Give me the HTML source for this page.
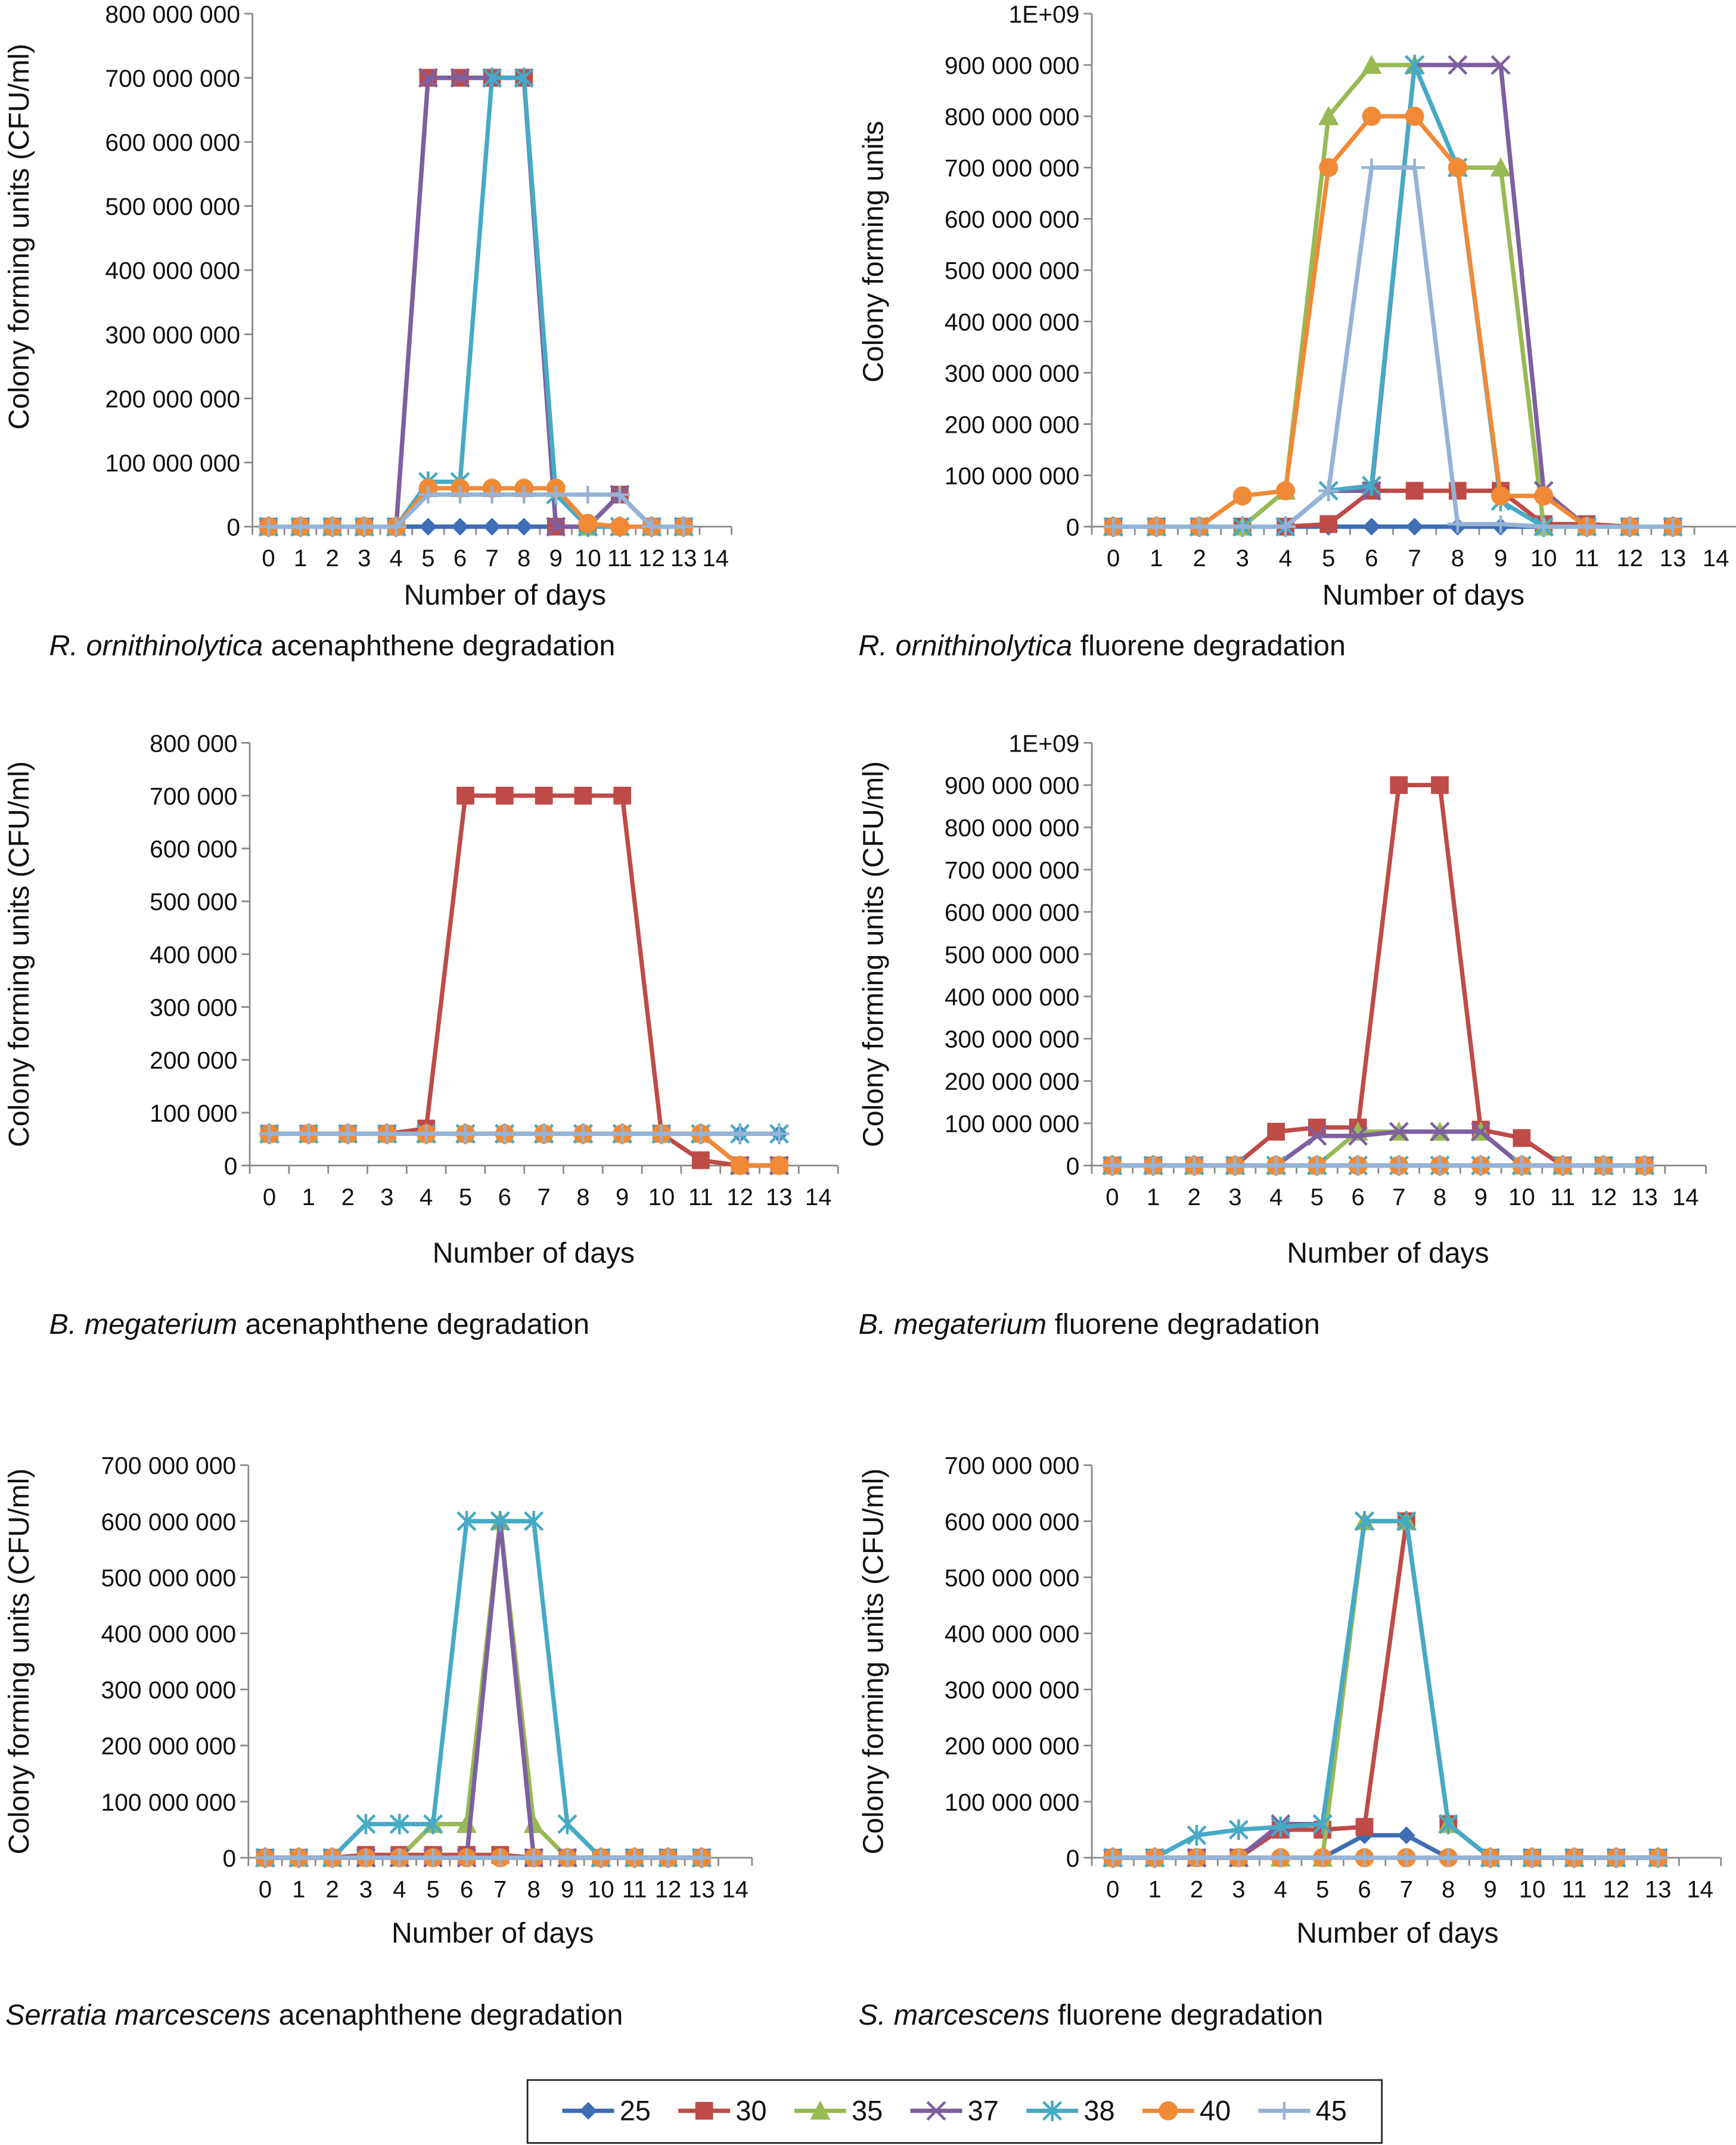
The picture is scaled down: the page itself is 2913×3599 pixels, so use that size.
<!DOCTYPE html>
<html><head><meta charset="utf-8"><style>
html,body{margin:0;padding:0;background:#fff;}
svg{display:block;font-family:"Liberation Sans",Arial,sans-serif;}
</style></head><body>
<svg id="fig" width="2913" height="3599" viewBox="0 0 1272 1568" preserveAspectRatio="none" xmlns="http://www.w3.org/2000/svg">
<rect x="0" y="0" width="1272" height="1568" fill="#fff"/>
</svg>
<script>
const series = ["25","30","35","37","38","40","45"];
const colors = ["#3d6db3","#be4b48","#98b954","#7d60a0","#46aac5","#f08a36","#95b3d7"];
const dayLabels = ["0","1","2","3","4","5","6","7","8","9","10","11","12","13","14"];
const M = 1e6;
// Chart 1: R. ornithinolytica acenaphthene
const roAce25 = [0,0,0,0,0,0,0,0,0,0,0,0,0,0];
const roAce30 = [0,0,0,0,0,700,700,700,700,0,0,50,0,0];
const roAce35 = [0,0,0,0,0,60,60,60,60,60,0,0,0,0];
const roAce37 = [0,0,0,0,0,700,700,700,700,0,0,50,0,0];
const roAce38 = [0,0,0,0,0,70,70,700,700,50,0,0,0,0];
const roAce40 = [0,0,0,0,0,60,60,60,60,60,5,0,0,0];
const roAce45 = [0,0,0,0,0,50,50,50,50,50,50,50,0,0];
// Chart 2: R. ornithinolytica fluorene
const roFlu25 = [0,0,0,0,0,0,0,0,0,0,0,0,0,0];
const roFlu30 = [0,0,0,0,0,5,70,70,70,70,5,5,0,0];
const roFlu35 = [0,0,0,0,70,800,900,900,700,700,0,0,0,0];
const roFlu37 = [0,0,0,0,0,70,70,900,900,900,70,0,0,0];
const roFlu38 = [0,0,0,0,0,70,80,900,700,50,0,0,0,0];
const roFlu40 = [0,0,0,60,70,700,800,800,700,60,60,0,0,0];
const roFlu45 = [0,0,0,0,0,70,700,700,5,5,0,0,0,0];
// Chart 3: B. megaterium acenaphthene (thousands)
const bmAce25 = [60,60,60,60,60,60,60,60,60,60,60,60,60,60];
const bmAce30 = [60,60,60,60,70,700,700,700,700,700,60,10,0,0];
const bmAce35 = [60,60,60,60,60,60,60,60,60,60,60,60,0,0];
const bmAce37 = [60,60,60,60,60,60,60,60,60,60,60,60,0,0];
const bmAce38 = [60,60,60,60,60,60,60,60,60,60,60,60,60,60];
const bmAce40 = [60,60,60,60,60,60,60,60,60,60,60,60,0,0];
const bmAce45 = [60,60,60,60,60,60,60,60,60,60,60,60,60,60];
// Chart 4: B. megaterium fluorene
const bmFlu25 = [0,0,0,0,0,0,0,0,0,0,0,0,0,0];
const bmFlu30 = [0,0,0,0,80,90,90,900,900,85,65,0,0,0];
const bmFlu35 = [0,0,0,0,0,0,80,80,80,80,0,0,0,0];
const bmFlu37 = [0,0,0,0,0,70,70,80,80,80,0,0,0,0];
const bmFlu38 = [0,0,0,0,0,0,0,0,0,0,0,0,0,0];
const bmFlu40 = [0,0,0,0,0,0,0,0,0,0,0,0,0,0];
const bmFlu45 = [0,0,0,0,0,0,0,0,0,0,0,0,0,0];
// Chart 5: Serratia acenaphthene
const smAce25 = [0,0,0,0,0,0,0,0,0,0,0,0,0,0];
const smAce30 = [0,0,0,5,5,5,5,5,0,0,0,0,0,0];
const smAce35 = [0,0,0,0,0,60,60,600,60,0,0,0,0,0];
const smAce37 = [0,0,0,0,0,0,0,600,0,0,0,0,0,0];
const smAce38 = [0,0,0,60,60,60,600,600,600,60,0,0,0,0];
const smAce40 = [0,0,0,0,0,0,0,0,0,0,0,0,0,0];
const smAce45 = [0,0,0,0,0,0,0,0,0,0,0,0,0,0];
// Chart 6: S. marcescens fluorene
const smFlu25 = [0,0,0,0,0,0,40,40,0,0,0,0,0,0];
const smFlu30 = [0,0,0,0,50,50,55,600,60,0,0,0,0,0];
const smFlu35 = [0,0,0,0,0,0,600,600,60,0,0,0,0,0];
const smFlu37 = [0,0,0,0,60,60,600,600,60,0,0,0,0,0];
const smFlu38 = [0,0,40,50,55,60,600,600,60,0,0,0,0,0];
const smFlu40 = [0,0,0,0,0,0,0,0,0,0,0,0,0,0];
const smFlu45 = [0,0,0,0,0,0,0,0,0,0,0,0,0,0];

const ticksBig8 = ["0","100 000 000","200 000 000","300 000 000","400 000 000","500 000 000","600 000 000","700 000 000","800 000 000"];
const ticksBig10 = ["0","100 000 000","200 000 000","300 000 000","400 000 000","500 000 000","600 000 000","700 000 000","800 000 000","900 000 000","1E+09"];
const ticksSmall8 = ["0","100 000","200 000","300 000","400 000","500 000","600 000","700 000","800 000"];
const ticksBig7 = ["0","100 000 000","200 000 000","300 000 000","400 000 000","500 000 000","600 000 000","700 000 000"];

const NS="http://www.w3.org/2000/svg";
const svg=document.getElementById('fig');
function mk(tag,attrs,parent){const e=document.createElementNS(NS,tag);for(const k in attrs)e.setAttribute(k,attrs[k]);(parent||svg).appendChild(e);return e;}

function marker(g,type,x,y,c){
  const s=6.5;
  let e;
  if(type===0){e=mk('polygon',{points:`${x},${y-s} ${x+s},${y} ${x},${y+s} ${x-s},${y}`,fill:c},g);}
  else if(type===1){e=mk('rect',{x:x-s,y:y-s,width:2*s,height:2*s,fill:c},g);}
  else if(type===2){e=mk('polygon',{points:`${x},${y-s-1} ${x+s+1},${y+s} ${x-s-1},${y+s}`,fill:c},g);}
  else if(type===3){e=mk('path',{d:`M${x-s} ${y-s}L${x+s} ${y+s}M${x-s} ${y+s}L${x+s} ${y-s}`,stroke:c,'stroke-width':2,fill:'none'},g);}
  else if(type===4){e=mk('path',{d:`M${x-s} ${y-s}L${x+s} ${y+s}M${x-s} ${y+s}L${x+s} ${y-s}M${x} ${y-s-1}L${x} ${y+s+1}`,stroke:c,'stroke-width':2,fill:'none'},g);}
  else if(type===5){e=mk('circle',{cx:x,cy:y,r:s+0.5,fill:c},g);}
  else {e=mk('path',{d:`M${x-s-1} ${y}L${x+s+1} ${y}M${x} ${y-s}L${x} ${y+s}`,stroke:c,'stroke-width':2,fill:'none'},g);}
  
  
}

function chart(cfg){
  const g=mk('g',{});
  
  
  const n=15, w=(cfg.x1-cfg.x0)/n;
  const xs=i=>cfg.x0+(i+0.5)*w;
  const ys=v=>cfg.yb-(v*cfg.unit)/cfg.max*(cfg.yb-cfg.yt);
  const ya=mk('line',{x1:cfg.x0,y1:cfg.yt,x2:cfg.x0,y2:cfg.yb,stroke:'#888','stroke-width':1.2},g);
  
  cfg.ticks.forEach((t,i)=>{
    const y=cfg.yb-i*(cfg.yb-cfg.yt)/(cfg.ticks.length-1);
    mk('line',{x1:cfg.x0-6,y1:y,x2:cfg.x0,y2:y,stroke:'#888','stroke-width':1.2},g);
    const tx=mk('text',{x:cfg.x0-9,y:y+6.5,'font-size':17.8,'text-anchor':'end',fill:'#111'},g);
    tx.textContent=t;
    
  });
  const xa=mk('line',{x1:cfg.x0,y1:cfg.yb,x2:cfg.x1,y2:cfg.yb,stroke:'#888','stroke-width':1.2},g);
  
  for(let i=0;i<=n;i++){const x=cfg.x0+i*w;mk('line',{x1:x,y1:cfg.yb,x2:x,y2:cfg.yb+6,stroke:'#888','stroke-width':1.2},g);}
  dayLabels.forEach((d,i)=>{
    const tx=mk('text',{x:xs(i),y:cfg.yb+29,'font-size':17.5,'text-anchor':'middle',fill:'#111'},g);
    tx.textContent=d;
    
  });
  const xt=mk('text',{x:cfg.xtx,y:cfg.xty,'font-size':21,'text-anchor':'middle',fill:'#111'},g);
  xt.textContent='Number of days';
  
  const yc=cfg.ytc||(cfg.yt+cfg.yb)/2;
  const yt=mk('text',{x:0,y:0,'font-size':21,'text-anchor':'middle',fill:'#111',transform:`translate(${cfg.ytx},${yc}) rotate(-90)`},g);
  yt.textContent=cfg.ytitle;
  
  const cap=mk('text',{x:cfg.capx,y:cfg.capy,'font-size':21.2,fill:'#111'},g);
  const it=mk('tspan',{'font-style':'italic'},cap);it.textContent=cfg.capI;
  const rest=mk('tspan',{},cap);rest.textContent=cfg.capR;
  
  cfg.data.forEach((arr,si)=>{
    const sg=mk('g',{},g);
    
    
    const pts=arr.map((v,i)=>xs(i)+','+ys(v)).join(' ');
    const pl=mk('polyline',{points:pts,fill:'none',stroke:colors[si],'stroke-width':3.2,'stroke-linejoin':'round'},sg);
    
    arr.forEach((v,i)=>marker(sg,si,xs(i),ys(v),colors[si]));
  });
}

chart({name:'chart-ro-acenaphthene',x0:185,x1:536,yt:10,yb:385,max:800*M,unit:M,ticks:ticksBig8,
  data:[roAce25,roAce30,roAce35,roAce37,roAce38,roAce40,roAce45],xtx:370,xty:442,ytx:21,ytc:173,ytitle:'Colony forming units (CFU/ml)',
  capx:36,capy:479,capI:'R. ornithinolytica',capR:' acenaphthene degradation'});
chart({name:'chart-ro-fluorene',x0:800,x1:1273,yt:10,yb:385,max:1000*M,unit:M,ticks:ticksBig10,
  data:[roFlu25,roFlu30,roFlu35,roFlu37,roFlu38,roFlu40,roFlu45],xtx:1043,xty:442,ytx:647,ytc:184,ytitle:'Colony forming units',
  capx:629,capy:479,capI:'R. ornithinolytica',capR:' fluorene degradation'});
chart({name:'chart-bm-acenaphthene',x0:183,x1:614,yt:543,yb:852,max:800000,unit:1000,ticks:ticksSmall8,
  data:[bmAce25,bmAce30,bmAce35,bmAce37,bmAce38,bmAce40,bmAce45],xtx:391,xty:923,ytx:21,ytitle:'Colony forming units (CFU/ml)',
  capx:36,capy:975,capI:'B. megaterium',capR:' acenaphthene degradation'});
chart({name:'chart-bm-fluorene',x0:800,x1:1250,yt:543,yb:852,max:1000*M,unit:M,ticks:ticksBig10,
  data:[bmFlu25,bmFlu30,bmFlu35,bmFlu37,bmFlu38,bmFlu40,bmFlu45],xtx:1017,xty:923,ytx:647,ytitle:'Colony forming units (CFU/ml)',
  capx:629,capy:975,capI:'B. megaterium',capR:' fluorene degradation'});
chart({name:'chart-sm-acenaphthene',x0:182,x1:551,yt:1071,yb:1358,max:700*M,unit:M,ticks:ticksBig7,
  data:[smAce25,smAce30,smAce35,smAce37,smAce38,smAce40,smAce45],xtx:361,xty:1420,ytx:21,ytitle:'Colony forming units (CFU/ml)',
  capx:4,capy:1480,capI:'Serratia marcescens',capR:' acenaphthene degradation'});
chart({name:'chart-sm-fluorene',x0:800,x1:1261,yt:1071,yb:1358,max:700*M,unit:M,ticks:ticksBig7,
  data:[smFlu25,smFlu30,smFlu35,smFlu37,smFlu38,smFlu40,smFlu45],xtx:1024,xty:1420,ytx:647,ytitle:'Colony forming units (CFU/ml)',
  capx:629,capy:1480,capI:'S. marcescens',capR:' fluorene degradation'});

const lg=mk('g',{});


mk('rect',{x:386.5,y:1520.5,width:626,height:46,fill:'#fff',stroke:'#222','stroke-width':1.2},lg);
const lx=[412,497,582,667,752,837,922];
series.forEach((s,i)=>{
  const e=mk('g',{},lg);
  
  
  mk('line',{x1:lx[i],y1:1543,x2:lx[i]+38,y2:1543,stroke:colors[i],'stroke-width':3.2},e);
  marker(e,i,lx[i]+19,1543,colors[i]);
  const t=mk('text',{x:lx[i]+42,y:1550,'font-size':20.5,fill:'#111'},e);
  t.textContent=s;
});
</script>
</body></html>
